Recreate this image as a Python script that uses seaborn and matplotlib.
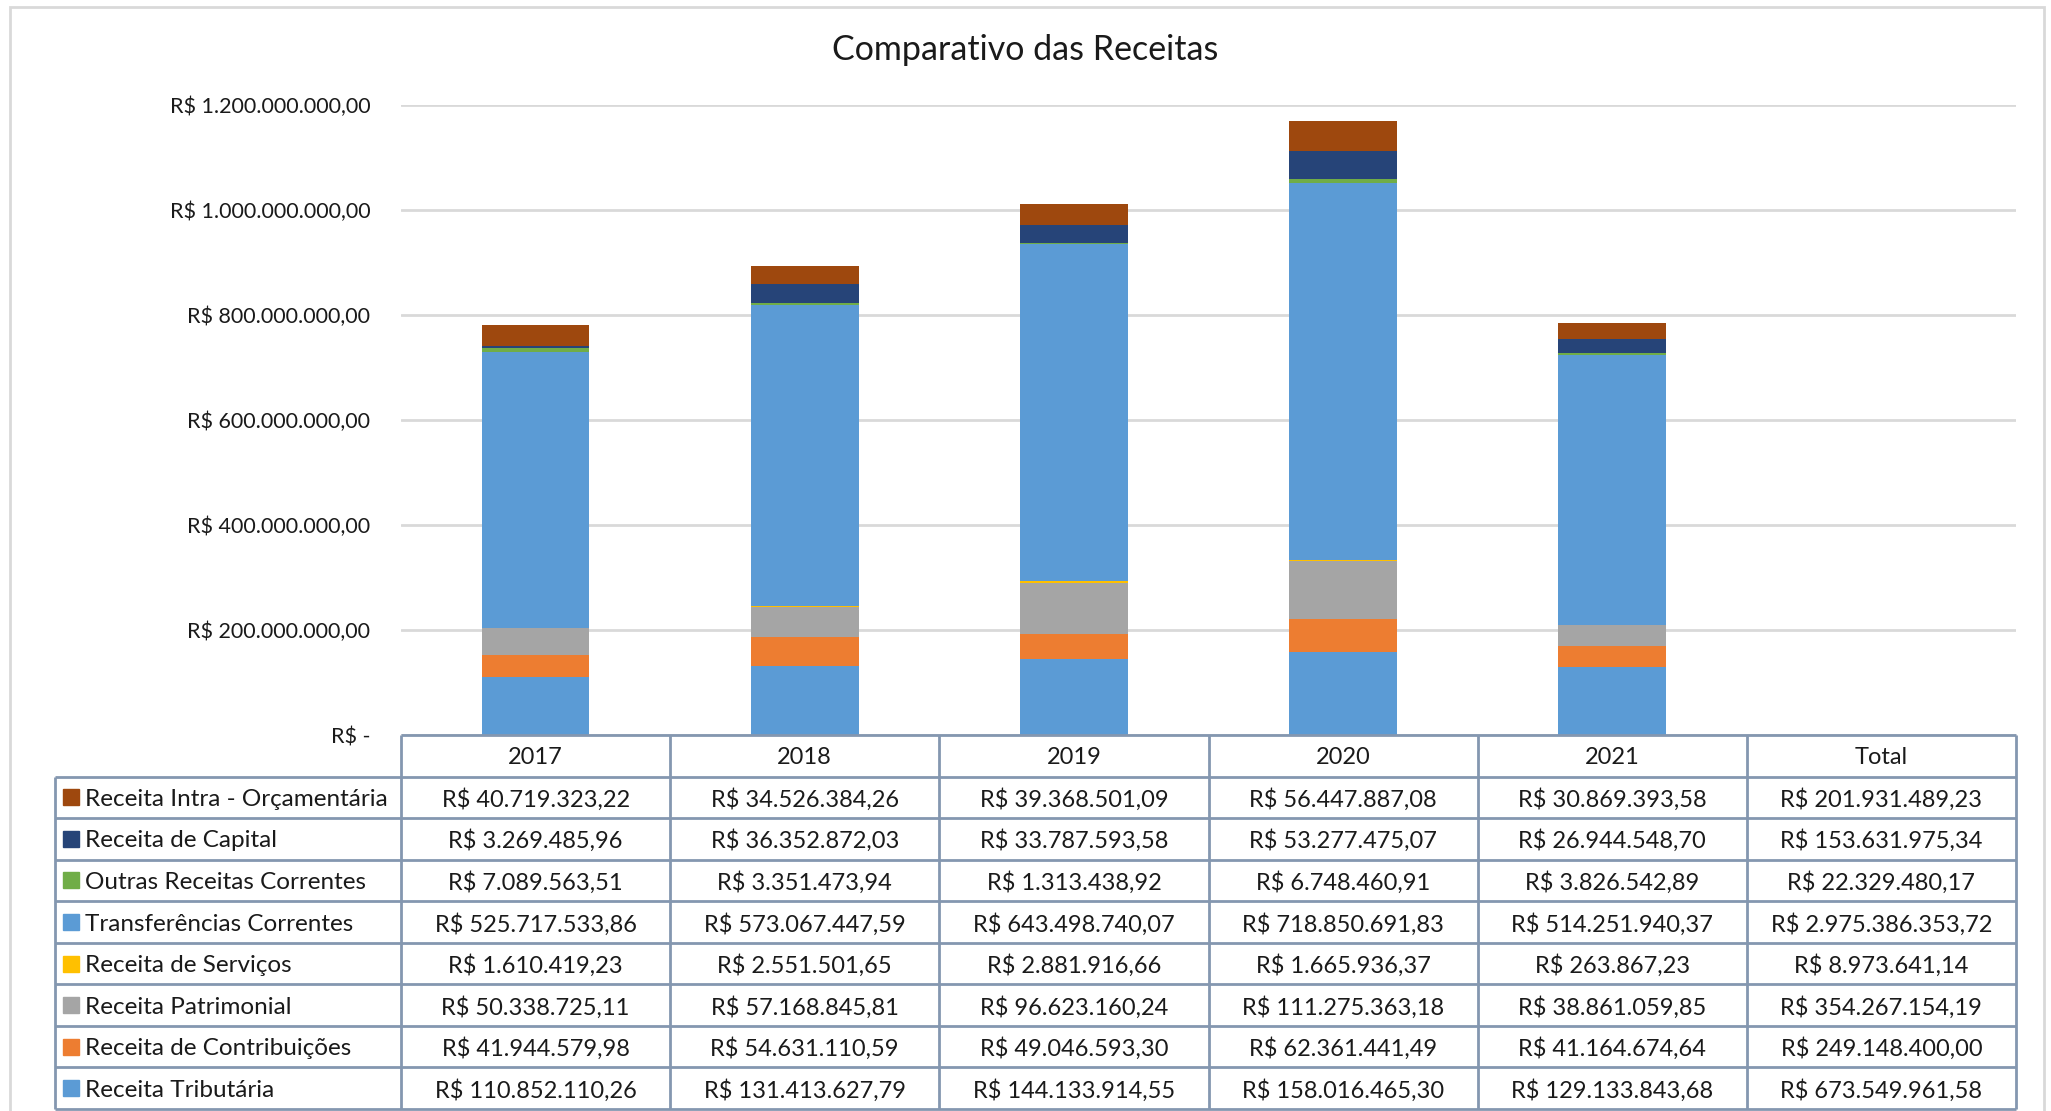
import matplotlib
matplotlib.use("Agg")
import matplotlib.pyplot as plt
from matplotlib.patches import Rectangle
from matplotlib.ticker import FuncFormatter, MultipleLocator
import seaborn as sns
import pandas as pd

anos = ["2017", "2018", "2019", "2020", "2021"]
colunas = anos + ["Total"]

# camadas da pilha, de baixo para cima
categorias = ["Receita Tributária", "Receita de Contribuições", "Receita Patrimonial",
              "Receita de Serviços", "Transferências Correntes", "Outras Receitas Correntes",
              "Receita de Capital", "Receita Intra - Orçamentária"]
cores = ["#5B9BD5", "#ED7D31", "#A5A5A5", "#FFC000", "#5B9BD5", "#70AD47", "#264478", "#9E480E"]

tributaria = [110852110.26, 131413627.79, 144133914.55, 158016465.30, 129133843.68]
contribuicoes = [41944579.98, 54631110.59, 49046593.30, 62361441.49, 41164674.64]
patrimonial = [50338725.11, 57168845.81, 96623160.24, 111275363.18, 38861059.85]
servicos = [1610419.23, 2551501.65, 2881916.66, 1665936.37, 263867.23]
transferencias = [525717533.86, 573067447.59, 643498740.07, 718850691.83, 514251940.37]
outras = [7089563.51, 3351473.94, 1313438.92, 6748460.91, 3826542.89]
capital = [3269485.96, 36352872.03, 33787593.58, 53277475.07, 26944548.70]
intra = [40719323.22, 34526384.26, 39368501.09, 56447887.08, 30869393.58]

# coluna Total da tabela, na mesma ordem de categorias
totais = [673549961.58, 249148400.00, 354267154.19, 8973641.14,
          2975386353.72, 22329480.17, 153631975.34, 201931489.23]

df = pd.DataFrame(dict(zip(categorias, [tributaria, contribuicoes, patrimonial, servicos,
                                        transferencias, outras, capital, intra])), index=anos)
acum = df.cumsum(axis=1)

sns.set_theme(style="white")
plt.rcParams['font.family'] = ['Lato', 'DejaVu Sans']
texto = "#1a1a1a"
borda = "#8497B0"


def brl(v):
    s = f"{v:,.2f}".replace(",", "X").replace(".", ",").replace("X", ".")
    return "R$ " + s


W, H = 2051, 1111
fig = plt.figure(figsize=(W / 100, H / 100), dpi=100)
fig.patch.set_facecolor("white")

# moldura do grafico
fig.add_artist(Rectangle((10 / W, -0.05), 2034 / W, 1.05 - 7 / H, transform=fig.transFigure,
                         fill=False, edgecolor="#D9D9D9", lw=2))

x0, x1, y_top, y_zero, y_bot, x_tab = 401, 2016, 105, 735, 1109, 55
ax = fig.add_axes([x0 / W, (H - y_zero) / H, (x1 - x0) / W, (y_zero - y_top) / H])

# barras empilhadas: desenha do acumulado maior para o menor
for i in range(len(categorias) - 1, -1, -1):
    sns.barplot(x=anos, y=acum[categorias[i]].values, order=colunas, color=cores[i],
                saturation=1, width=0.4, linewidth=0, errorbar=None, ax=ax)

ax.set_xlim(-0.5, 5.5)
ax.set_ylim(0, 1.2e9)
ax.yaxis.set_major_locator(MultipleLocator(2e8))
ax.yaxis.set_major_formatter(FuncFormatter(lambda v, p: "R$ -" if v == 0 else brl(v)))
ax.grid(axis="y", color="#D9D9D9", lw=2)
ax.set_axisbelow(True)
for s in ax.spines.values():
    s.set_visible(False)
ax.tick_params(axis="y", length=0, pad=22, labelsize=15.5, labelcolor=texto)
ax.set_xticks([])
ax.set_xlabel("")
ax.set_ylabel("")

fig.text(0.5, 1 - 50 / H, "Comparativo das Receitas", ha="center", va="center",
         fontsize=24.5, color=texto)

# tabela de dados abaixo do grafico
cat_px = (x1 - x0) / 6
xl = -0.5 - (x0 - x_tab) / cat_px
tab = fig.add_axes([x_tab / W, (H - y_bot) / H, (x1 - x_tab) / W, (y_bot - y_zero) / H])
tab.set_xlim(xl, 5.5)
tab.set_ylim(9, 0)
tab.axis("off")

kw = dict(color=borda, lw=2, clip_on=False)
tab.hlines(0, -0.5, 5.5, **kw)
tab.hlines(range(1, 10), xl, 5.5, **kw)
tab.vlines([c - 0.5 for c in range(7)], 0, 9, **kw)
tab.vlines(xl, 1, 9, **kw)

for j, c in enumerate(colunas):
    tab.text(j, 0.55, c, ha="center", va="center", fontsize=17, color=texto)

linhas = list(range(len(categorias) - 1, -1, -1))
for r, i in enumerate(linhas, start=1):
    tab.plot(xl + 16 / cat_px, r + 0.5, marker="s", markersize=11, color=cores[i],
             clip_on=False)
    tab.text(xl + 30 / cat_px, r + 0.55, categorias[i], ha="left", va="center",
             fontsize=17.5, color=texto)
    vals = list(df[categorias[i]].values) + [totais[i]]
    for j, v in enumerate(vals):
        tab.text(j, r + 0.55, brl(v), ha="center", va="center", fontsize=17, color=texto)

fig.savefig("out.png", dpi=100, facecolor="white")
